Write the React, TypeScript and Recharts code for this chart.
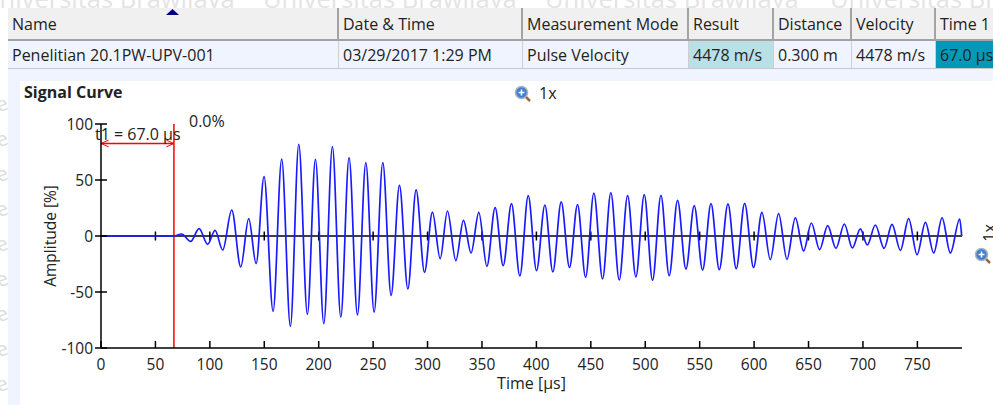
import React from 'react';
import { LineChart, Line, XAxis, YAxis, ReferenceLine } from 'recharts';

const FONT = '"Open Sans", "Noto Sans", sans-serif';
const TEXT = '#222222';

const xTicks = [0, 50, 100, 150, 200, 250, 300, 350, 400, 450, 500, 550, 600, 650, 700, 750];
const yTicks = [-100, -50, 0, 50, 100];

// turning points of the signal
const timeUs = [
  0, 67, 74.1, 82.4, 90.1, 98, 104.8, 111.8, 120.1, 128.4, 135.7, 142.5, 149.8, 158.1, 166, 174,
  181.7, 189.6, 197, 204.7, 212.6, 220.3, 227.9, 235.6, 243.3, 250.9, 258.9, 266.5, 274.2, 281.9, 289.5, 297.2,
  304.5, 311.6, 318.3, 326, 333, 340, 347.1, 354.5, 362.1, 369.5, 377.1, 384.8, 392.5, 400.1, 407.8, 415.1,
  422.8, 430.4, 437.8, 445.2, 452.8, 460.8, 468.4, 476.1, 483.8, 491.4, 499.1, 506.7, 514.4, 522, 529.7, 537.4,
  545, 552.7, 560.4, 568, 576, 583.6, 591.3, 599.5, 607.2, 614.9, 622.5, 630.2, 637.9, 645.5, 652.6, 660.2,
  667.6, 675.2, 682.9, 690.3, 697.6, 704, 711.4, 719.4, 726.7, 734.4, 742, 749.7, 757.4, 765, 772.7, 780.3,
  788.9, 790.7,
];
const amplitude = [
  0, 0, 1.8, -4.8, 6.5, -7.4, 5.1, -12.5, 23.2, -27.7, 15.5, -24.7, 53, -67.2, 68.7, -80.6,
  81.8, -69.9, 68.5, -78.3, 79.8, -72.3, 69.9, -70.5, 65.5, -67.9, 65.5, -53, 45.2, -47.3, 41.2, -32.4,
  21.4, -20.2, 22.3, -22, 14, -15.2, 21.1, -27.1, 25.3, -26.5, 28.9, -35.7, 36, -31, 27.7, -32.1,
  30.4, -28, 28, -36.9, 38.4, -38.4, 38.7, -39.3, 36, -36.6, 36.9, -39.6, 36.3, -35.4, 31.8, -29.5,
  27.1, -30.4, 28.9, -30, 28.6, -29.2, 29.2, -28, 21.1, -21.1, 19.9, -20.8, 16.1, -13.4, 11.6, -12.2,
  9.2, -11, 10.7, -10.7, 6.3, -8, 9.8, -11, 10.4, -12.8, 15.5, -16.7, 12.2, -15.2, 16.1, -15.2,
  15.2, 0,
];
const chartData = timeUs.map((t, i) => ({ t, a: amplitude[i] }));

const headers = ['Name', 'Date & Time', 'Measurement Mode', 'Result', 'Distance', 'Velocity', 'Time 1'];
const cells = ['Penelitian 20.1PW-UPV-001', '03/29/2017 1:29 PM', 'Pulse Velocity', '4478 m/s', '0.300 m', '4478 m/s', '67.0 µs'];
const columnEdges = [8, 338, 522, 688, 773, 851, 935, 993];
const cellColors = ['', '', '', '#b9dfe7', '', '', '#009ab8'];

const t1 = 67;
const arrowLevel = 82.6;

const XTick = ({ x, y, payload }: any) => (
  <g>
    <line x1={x} x2={x} y1={y - 8} y2={y - 15} stroke="#000" strokeWidth={1.5} />
    <text x={x} y={y + 14} textAnchor="middle" fontSize={15.5} fontFamily={FONT} fill={TEXT}>{payload.value}</text>
  </g>
);

const YTick = ({ x, y, payload }: any) => (
  <g>
    <line x1={x + 2} x2={x + 14} y1={y} y2={y} stroke="#000" strokeWidth={1.5} />
    <text x={x} y={y + 5.5} textAnchor="end" fontSize={15.5} fontFamily={FONT} fill={TEXT}>{payload.value}</text>
  </g>
);

const Box = ({ left, top, width, height, color }: any) => (
  <div style={{ position: 'absolute', left, top, width, height, background: color }} />
);

const Label = ({ left, top, children, style }: any) => (
  <div style={{ position: 'absolute', left, top, fontFamily: FONT, fontSize: 16, lineHeight: '18px', color: TEXT, whiteSpace: 'nowrap', ...style }}>{children}</div>
);

const Magnifier = ({ left, top }: any) => (
  <svg style={{ position: 'absolute', left, top }} width={18} height={18}>
    <line x1={10} y1={10} x2={16} y2={16} stroke="#9a6a3a" strokeWidth={2.5} />
    <circle cx={7.5} cy={7.5} r={6} fill="#3f7fd0" stroke="#a9b4c0" strokeWidth={1.6} />
    <path d="M4.5 7.5h6M7.5 4.5v6" stroke="#fff" strokeWidth={1.6} />
  </svg>
);

const App: React.FC = () => {
  return (
    <div style={{ position: 'absolute', left: 0, top: 0, width: 993, height: 405, overflow: 'hidden', background: '#fff' }}>
      {/* washed out watermark behind the window */}
      {[-19, 263, 545, 830].map((x) => (
        <div key={x} style={{ position: 'absolute', left: x, top: -19, fontFamily: FONT, fontSize: 25.5, color: '#e4e4e4', whiteSpace: 'nowrap' }}>
          Universitas Brawijaya
        </div>
      ))}
      {[90, 125, 160, 195, 230, 265, 300, 335, 370].map((y) => (
        <div key={y} style={{ position: 'absolute', left: -4, top: y, fontFamily: FONT, fontSize: 20, color: '#dddddd', transform: 'rotate(-20deg)' }}>e</div>
      ))}

      <Box left={8} top={68} width={985} height={337} color="#f0f4fe" />
      <Box left={20} top={81} width={973} height={324} color="#ffffff" />

      <Box left={8} top={8} width={985} height={32} color="#f0f0f0" />
      <Box left={8} top={39} width={985} height={2} color="#a3a3a3" />
      <Box left={8} top={41} width={985} height={27} color="#f0f4fe" />
      <Box left={8} top={68} width={985} height={1} color="#c8c8c8" />
      {headers.map((h, i) => (
        <React.Fragment key={h}>
          {cellColors[i] && <Box left={columnEdges[i]} top={41} width={columnEdges[i + 1] - columnEdges[i]} height={27} color={cellColors[i]} />}
          <Label left={columnEdges[i] + (i === 0 ? 4 : 5)} top={15}>{h}</Label>
          <Label left={columnEdges[i] + (i === 0 ? 4 : 5)} top={46}>{cells[i]}</Label>
          {i > 0 && <Box left={columnEdges[i] - 1} top={8} width={2} height={32} color="#a3a3a3" />}
          {i > 0 && <Box left={columnEdges[i]} top={41} width={1} height={27} color="#cfcfcf" />}
        </React.Fragment>
      ))}
      <svg style={{ position: 'absolute', left: 165, top: 8 }} width={15} height={8}>
        <path d="M1 7 L7.5 1 L14 7 Z" fill="#000080" />
      </svg>

      <Label left={24} top={83} style={{ fontWeight: 700 }}>Signal Curve</Label>
      <Magnifier left={514} top={85} />
      <Label left={539} top={84}>1x</Label>
      <Magnifier left={974} top={247} />
      <Label left={980} top={224} style={{ transform: 'rotate(-90deg)' }}>1x</Label>

      <div style={{ position: 'absolute', left: 0, top: 0 }}>
        <LineChart width={993} height={405} data={chartData} margin={{ top: 124, right: 31, bottom: 27, left: 0 }}>
          <XAxis
            dataKey="t"
            type="number"
            domain={[0, 791]}
            ticks={xTicks}
            interval={0}
            height={30}
            tick={XTick}
            tickLine={false}
            axisLine={{ stroke: '#000', strokeWidth: 1.5 }}
            label={{ value: 'Time [µs]', position: 'insideBottom', offset: -11, fontSize: 16, fontFamily: FONT, fill: TEXT }}
          />
          <YAxis
            type="number"
            domain={[-100, 100]}
            ticks={yTicks}
            interval={0}
            width={101}
            tick={YTick}
            tickLine={false}
            axisLine={{ stroke: '#000', strokeWidth: 1.5 }}
            label={{ value: 'Amplitude [%]', angle: -90, position: 'insideLeft', offset: 50, fontSize: 15.5, fontFamily: FONT, fill: TEXT, style: { textAnchor: 'middle' } }}
          />
          <ReferenceLine y={0} stroke="#000" strokeWidth={1.5} />
          {xTicks.slice(1).map((t) => (
            <ReferenceLine key={t} segment={[{ x: t, y: -4 }, { x: t, y: 4 }]} stroke="#000" strokeWidth={1.5} />
          ))}
          <ReferenceLine x={t1} stroke="#ff0000" strokeWidth={1.5} />
          <ReferenceLine segment={[{ x: 0, y: arrowLevel }, { x: t1, y: arrowLevel }]} stroke="#ff0000" strokeWidth={1.5} />
          <ReferenceLine segment={[{ x: 0, y: arrowLevel }, { x: 7, y: arrowLevel + 3 }]} stroke="#ff0000" />
          <ReferenceLine segment={[{ x: 0, y: arrowLevel }, { x: 7, y: arrowLevel - 3 }]} stroke="#ff0000" />
          <ReferenceLine segment={[{ x: t1, y: arrowLevel }, { x: t1 - 7, y: arrowLevel + 3 }]} stroke="#ff0000" />
          <ReferenceLine segment={[{ x: t1, y: arrowLevel }, { x: t1 - 7, y: arrowLevel - 3 }]} stroke="#ff0000" />
          <Line dataKey="a" type="monotone" stroke="#1a1aff" strokeWidth={1.7} dot={false} isAnimationActive={false} />
        </LineChart>
      </div>

      <Label left={95} top={125}>t1 = 67.0 µs</Label>
      <Label left={189} top={112}>0.0%</Label>
    </div>
  );
};

export default App;
